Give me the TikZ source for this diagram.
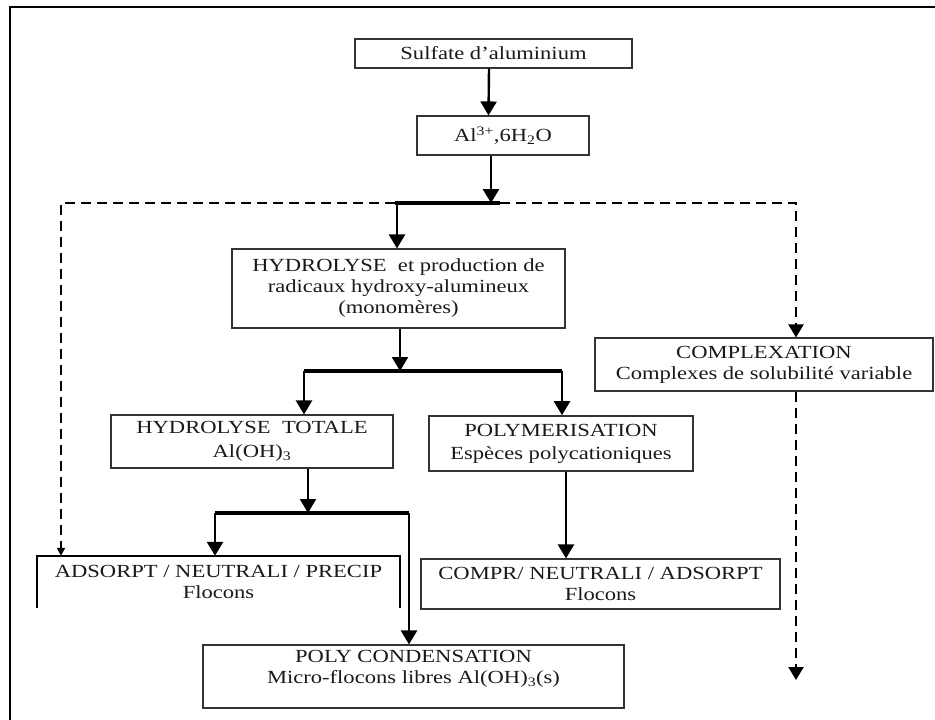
\documentclass[tikz,border=0pt]{standalone}
\usepackage{fontspec}
\setmainfont{Liberation Serif}[FakeStretch=1.22]
\usetikzlibrary{arrows.meta}
\begin{document}
\begin{tikzpicture}[x=1pt,y=-1pt,
  txt/.style={font=\fontsize{18.5}{21}\selectfont, text=black!90, align=center, inner sep=0pt},
  box/.style={txt, draw=black!80, line width=1.1pt},
  arr/.style={-{Triangle[length=14pt,width=16pt]}, line width=2.4pt, draw=black},
  bar/.style={line width=3.8pt, draw=black},
  dline/.style={line width=2.2pt, dash pattern=on 10pt off 6pt, draw=black},
  dsmall/.style={dline, -{Triangle[length=8pt,width=8pt]}},
  dbig/.style={dline, -{Triangle[length=13pt,width=15pt]}}]
\useasboundingbox (0,0) rectangle (935,720);
\draw[line width=1.6pt] (10,720) -- (10,7) -- (935,7);

% boxes
\node[box, minimum width=277, minimum height=29] (sulf) at (493.5,53.5) {Sulfate d'aluminium};
\node[box, minimum width=172, minimum height=39] (al) at (503,135.5) {Al\textsuperscript{3+},6H\textsubscript{2}O};
\node[box, minimum width=333, minimum height=79] (hyd) at (398.5,288.5) {HYDROLYSE\ \ et production de\\radicaux hydroxy-alumineux\\(monomères)};
\node[box, minimum width=338, minimum height=53] (compl) at (764,364.5) {COMPLEXATION\\Complexes de solubilité variable};
\node[box, minimum width=282, minimum height=53] (ht) at (252,441.5) {HYDROLYSE\ \ TOTALE\\[3pt]Al(OH)\textsubscript{3}};
\node[box, line width=1.6pt, minimum width=264, minimum height=55] (poly) at (561,443.5) {POLYMERISATION\\[2pt]Espèces polycationiques};
\node[txt, minimum width=363, minimum height=52] (ads) at (218.5,582) {ADSORPT / NEUTRALI / PRECIP\\Flocons};
\draw[line width=1.7pt, black] (ads.south west) -- (ads.north west) -- (ads.north east) -- (ads.south east);
\node[box, minimum width=359, minimum height=50] (compr) at (600.5,584) {COMPR/ NEUTRALI / ADSORPT\\Flocons};
\node[box, minimum width=421, minimum height=63] (pc) at (413.5,676.5) {};
\node[txt] (pctext) at (413.5,669) {POLY CONDENSATION\\Micro-flocons libres Al(OH)\textsubscript{3}(s)};

% coordinates
\coordinate (J) at (491,203);
\coordinate (JL) at (395,203);
\coordinate (JR) at (500,203);
\coordinate (DL) at (61,203);
\coordinate (DR) at (796,203);
\coordinate (H0) at (397,203);
\coordinate (S1) at (400,371);
\coordinate (S1L) at (304,371);
\coordinate (S1R) at (562,371);
\coordinate (S2) at (308,513);
\coordinate (S2L) at (215,513);
\coordinate (S2R) at (409,513);
\coordinate (P) at (566,500);
\coordinate (E) at (796,680);

% connectors
\draw[arr] ([xshift=-4.5pt]sulf.south) -- ([xshift=-14.5pt]al.north);
\draw[arr, line width=2.8pt] (al.south -| J) -- (J);
\draw[bar] (JL) -- (JR);
\draw[dsmall] (JL) -- (DL) -- (DL |- ads.north);
\draw[dbig] (JR) -- (DR) -- (DR |- compl.north);
\draw[arr] (H0) -- (H0 |- hyd.north);

\draw[arr] (hyd.south -| S1) -- (S1);
\draw[bar] (S1L) -- (S1R);
\draw[arr] (S1L) -- (S1L |- ht.north);
\draw[arr] (S1R) -- (S1R |- poly.north);

\draw[arr] (ht.south -| S2) -- (S2);
\draw[bar] (S2L) -- (S2R);
\draw[arr] (S2L) -- (S2L |- ads.north);
\draw[arr] (S2R) -- (S2R |- pc.north);

\draw[arr] (poly.south -| P) -- (compr.north -| P);
\draw[dbig] (compl.south -| E) -- (E);
\end{tikzpicture}
\end{document}
